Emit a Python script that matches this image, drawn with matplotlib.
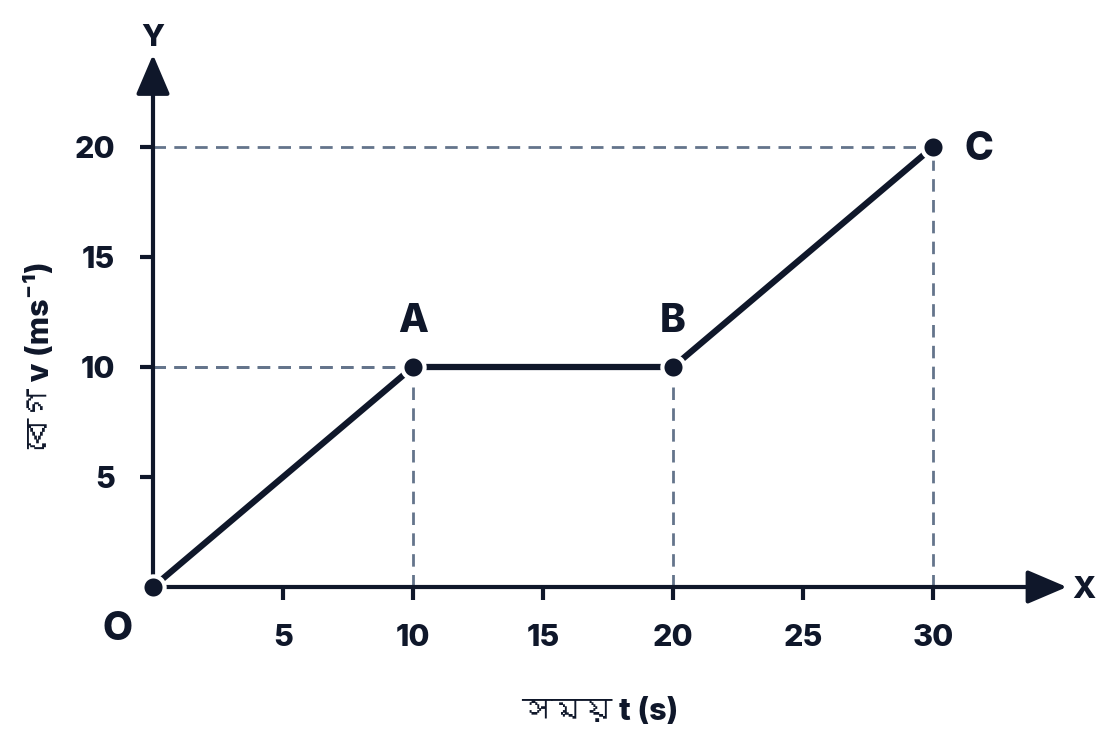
import matplotlib
matplotlib.use('Agg')
import matplotlib.pyplot as plt
from matplotlib import font_manager
from matplotlib.ft2font import FT2Font

# data
time_s = [0, 10, 20, 30]
velocity = [0, 10, 10, 20]
point_names = ['O', 'A', 'B', 'C']
x_ticks = [5, 10, 15, 20, 25, 30]
y_ticks = [5, 10, 15, 20]
x_label = 'সময় t (s)'
y_label = 'বেগ v (ms⁻¹)'

dark = '#0f172a'
grey = '#64748b'
weight = 'heavy'


def find_bengali_font():
    # pick any installed font that has Bengali glyphs
    for f in font_manager.fontManager.ttflist:
        try:
            if 0x09B8 in FT2Font(f.fname).get_charmap():
                return f.name
        except Exception:
            pass
    return None


families = ['Inter']
bn = find_bengali_font()
if bn:
    families.append(bn)
families.append('DejaVu Sans')
plt.rcParams['font.family'] = families
plt.rcParams['font.weight'] = weight
plt.rcParams['font.size'] = 22

fig = plt.figure(figsize=(11.2, 7.54), dpi=100)
ax = fig.add_axes([0.090179, 0.14854, 0.905357, 0.80239])
ax.set_xlim(-2, 37)
ax.set_ylim(-2.5, 25)

# guide lines
ls = (0, (4.5, 3))
for x, y in zip(time_s[1:], velocity[1:]):
    ax.plot([0, x], [y, y], color=grey, lw=2, linestyle=ls, zorder=1)
    ax.plot([x, x], [0, y], color=grey, lw=2, linestyle=ls, zorder=1)

# axes with arrows
for s in ax.spines.values():
    s.set_visible(False)
ax.spines['left'].set_position(('data', 0))
ax.spines['bottom'].set_position(('data', 0))
arrow = dict(arrowstyle='-|>,head_length=1.22,head_width=0.52', lw=3, color=dark,
             shrinkA=0, shrinkB=0, mutation_scale=20)
ax.annotate('', xy=(35.15, 0), xytext=(0, 0), arrowprops=arrow, zorder=2)
ax.annotate('', xy=(0, 24.2), xytext=(0, 0), arrowprops=arrow, zorder=2)

ax.set_xticks(x_ticks)
ax.set_yticks(y_ticks)
ax.tick_params(axis='both', length=9.5, width=3, color=dark, labelcolor=dark, labelsize=22)
ax.tick_params(axis='x', pad=17)
ax.tick_params(axis='y', pad=18)
for lab in ax.get_xticklabels() + ax.get_yticklabels():
    lab.set_fontweight(weight)

# velocity-time line
ax.plot(time_s, velocity, color=dark, lw=4.5, zorder=3, solid_capstyle='butt')
ax.plot(time_s, velocity, 'o', color=dark, markersize=16, markeredgecolor='white',
        markeredgewidth=3, zorder=4, clip_on=False)

# point labels
txt = dict(color=dark, fontsize=28, fontweight=weight, ha='center', va='center')
ax.text(-1.35, -1.95, point_names[0], **txt)
ax.text(time_s[1], velocity[1] + 2.05, point_names[1], **txt)
ax.text(time_s[2], velocity[2] + 2.05, point_names[2], **txt)
ax.text(time_s[3] + 1.75, velocity[3] - 0.1, point_names[3], **txt)

# axis letters
axtxt = dict(txt, fontsize=22)
ax.text(35.8, -0.14, 'X', **axtxt)
ax.text(0, 24.95, 'Y', **axtxt)

ax.set_xlabel(x_label, color=dark, fontsize=22, fontweight=weight)
ax.set_ylabel(y_label, color=dark, fontsize=22, fontweight=weight)
ax.xaxis.set_label_coords(0.492, -0.116)
ax.yaxis.set_label_coords(-0.060, 0.474)
ax.xaxis.label.set_va('center')
ax.yaxis.label.set_va('center')

fig.savefig('out.png', dpi=100)
